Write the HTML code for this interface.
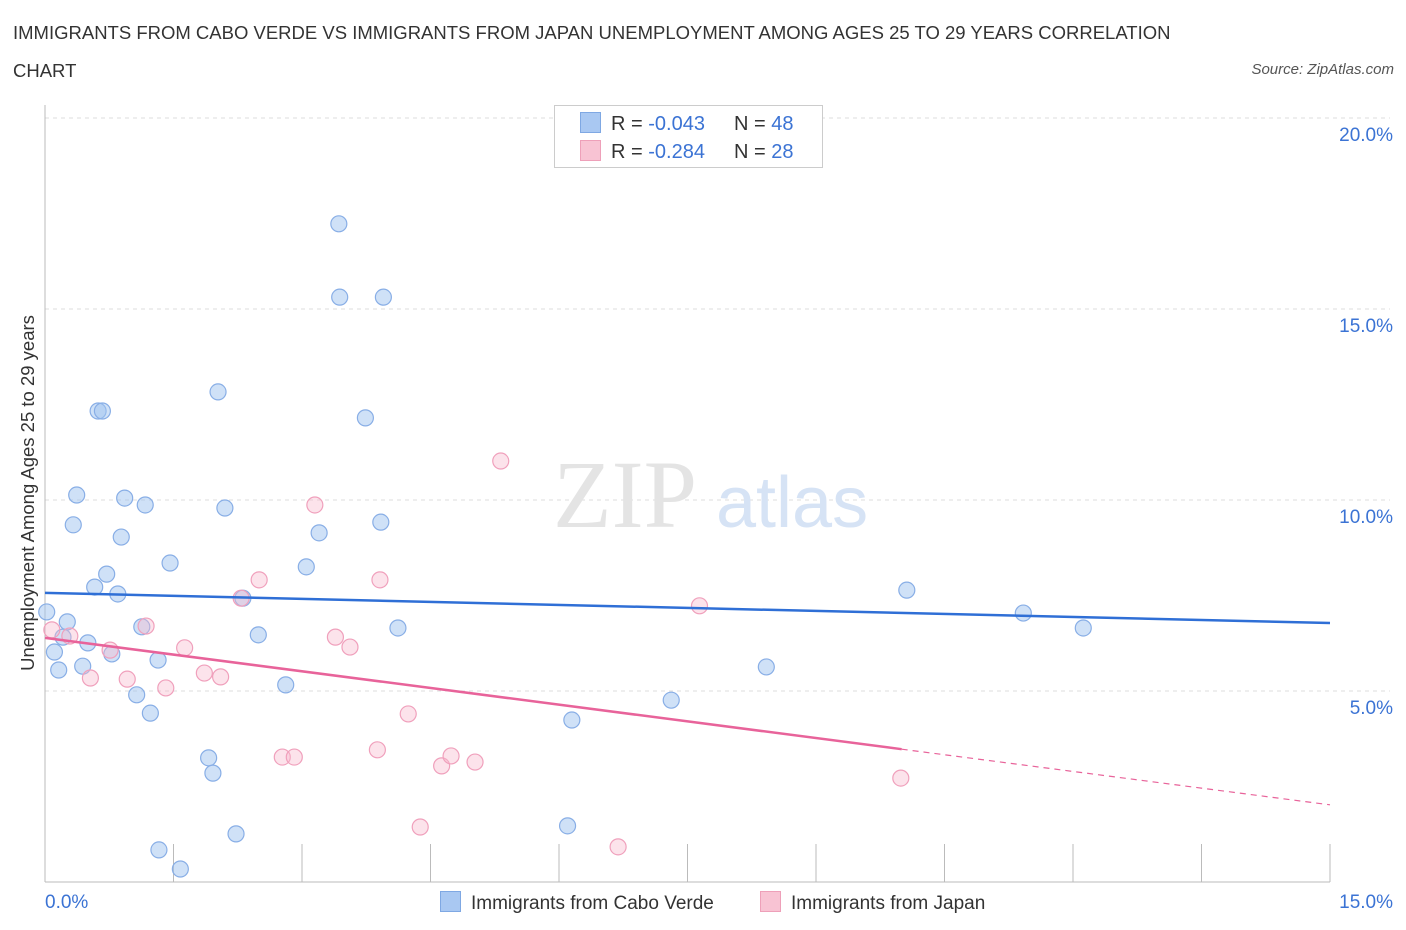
<!DOCTYPE html>
<html><head><meta charset="utf-8">
<style>
body{margin:0;background:#fff;font-family:"Liberation Sans",sans-serif;}
#wrap{position:relative;width:1406px;height:930px;overflow:hidden;}
.title{position:absolute;left:13px;top:14px;font-size:18.5px;color:#333;line-height:38px;width:1185px;}
.source{position:absolute;right:12px;top:61px;font-size:15px;color:#555;font-style:italic;}
</style></head>
<body>
<div id="wrap">
<div class="title">IMMIGRANTS FROM CABO VERDE VS IMMIGRANTS FROM JAPAN UNEMPLOYMENT AMONG AGES 25 TO 29 YEARS CORRELATION CHART</div>
<div class="source">Source: ZipAtlas.com</div>
<svg id="svg" width="1406" height="930" style="position:absolute;left:0;top:0"></svg>
</div>
<script>
const blueX=[0.02,0.11,0.16,0.26,0.21,0.33,0.37,0.44,0.50,0.58,0.62,0.67,0.72,0.78,0.85,0.89,0.93,1.07,1.13,1.17,1.23,1.32,1.33,1.46,1.58,1.91,1.96,2.02,2.10,2.23,2.31,2.49,2.81,3.05,3.20,3.43,3.44,3.74,3.92,3.95,4.12,6.10,6.15,7.31,8.42,10.06,11.42,12.12];
const blueY=[7.07,6.02,5.55,6.81,6.41,9.35,10.13,5.65,6.26,7.72,12.33,12.33,8.06,5.97,7.54,9.03,10.05,4.90,6.68,9.87,4.42,5.81,0.84,8.35,0.34,3.25,2.85,12.83,9.79,1.26,7.43,6.47,5.16,8.25,9.14,17.23,15.31,12.15,9.42,15.31,6.65,1.47,4.24,4.76,5.63,7.64,7.04,6.65];
const pinkX=[0.08,0.29,0.53,0.76,0.96,1.18,1.41,1.63,1.86,2.05,2.29,2.50,2.77,2.91,3.15,3.39,3.56,3.88,3.91,4.24,4.38,4.63,4.74,5.02,5.32,6.69,7.64,9.99];
const pinkY=[6.60,6.44,5.34,6.07,5.31,6.70,5.08,6.13,5.47,5.37,7.43,7.91,3.27,3.27,9.87,6.41,6.15,3.46,7.91,4.40,1.44,3.04,3.30,3.14,11.02,0.92,7.23,2.72];
const blueTrend=[7.57,6.78];   // y at x=0 and x=15
const pinkTrend=[6.39,2.02];   // y at x=0 and x=15
const pinkSolidEnd=10.0;
const yTicks=[5,10,15,20];
const yTickLabels=["5.0%","10.0%","15.0%","20.0%"];

const NS="http://www.w3.org/2000/svg";
const svg=document.getElementById('svg');
const X0=45,X1=1330,Y0=882,Ytop=118;
const sx=v=>X0+(v/15)*(X1-X0);
const sy=v=>Y0-(v/20)*(Y0-Ytop);
function el(t,a,p){const e=document.createElementNS(NS,t);for(const k in a)e.setAttribute(k,a[k]);(p||svg).appendChild(e);return e;}

yTicks.forEach((t,i)=>{
  const g=el('line',{x1:X0,x2:1390,y1:sy(t),y2:sy(t),stroke:'#ddd','stroke-dasharray':'4,4'});
  
  
  const tx=el('text',{x:1393,y:sy(t)+23,'text-anchor':'end','font-size':19,fill:'#3b73d4','font-family':'Liberation Sans'});
  tx.textContent=yTickLabels[i];
  
  
});
const ya=el('line',{x1:X0,x2:X0,y1:105,y2:Y0,stroke:'#bbb'});


const xa=el('line',{x1:X0,x2:X1,y1:Y0,y2:Y0,stroke:'#bbb'});


for(let i=0;i<=10;i++){
  const v=i*1.5;
  const t=el('line',{x1:sx(v),x2:sx(v),y1:Y0,y2:Y0-38,stroke:'#bbb'});
  
  
}
const xl0=el('text',{x:45,y:908,'font-size':19,fill:'#3b73d4','font-family':'Liberation Sans'});xl0.textContent='0.0%';


const xl1=el('text',{x:1393,y:908,'text-anchor':'end','font-size':19,fill:'#3b73d4','font-family':'Liberation Sans'});xl1.textContent='15.0%';


const yt=el('text',{x:0,y:0,transform:'translate(34,493) rotate(-90)','text-anchor':'middle','font-size':18.5,fill:'#333','font-family':'Liberation Sans'});
yt.textContent='Unemployment Among Ages 25 to 29 years';


const wm=el('text',{x:553,y:527,'font-size':96,fill:'#e4e4e4','font-family':'Liberation Serif'});wm.textContent='ZIP';


const wm2=el('text',{x:716,y:527,'font-size':72,fill:'#d6e3f5','font-family':'Liberation Sans'});wm2.textContent='atlas';



blueX.forEach((x,i)=>{
  const c=el('circle',{cx:sx(x),cy:sy(blueY[i]),r:8,fill:'rgba(160,195,240,0.5)',stroke:'#88aee6','stroke-width':1.2});
  
  
});
pinkX.forEach((x,i)=>{
  const c=el('circle',{cx:sx(x),cy:sy(pinkY[i]),r:8,fill:'rgba(248,185,205,0.4)',stroke:'#f0a0bc','stroke-width':1.2});
  
  
});
const bt=el('line',{x1:sx(0),y1:sy(blueTrend[0]),x2:sx(15),y2:sy(blueTrend[1]),stroke:'#2f6fd6','stroke-width':2.5});


const pAt=x=>pinkTrend[0]+(pinkTrend[1]-pinkTrend[0])*x/15;
const pt=el('line',{x1:sx(0),y1:sy(pAt(0)),x2:sx(pinkSolidEnd),y2:sy(pAt(pinkSolidEnd)),stroke:'#e8639a','stroke-width':2.5});


const pd=el('line',{x1:sx(pinkSolidEnd),y1:sy(pAt(pinkSolidEnd)),x2:sx(15),y2:sy(pAt(15)),stroke:'#e8639a','stroke-width':1.2,'stroke-dasharray':'6,5'});



const lb=el('rect',{x:554.5,y:105.5,width:268,height:62,fill:'#fff',stroke:'#ccc'});


[[ '#a9c8f2','#7fa8e3','-0.043','48',123],['#f8c3d3','#eea0b9','-0.284','28',151]].forEach(r=>{
  const s=el('rect',{x:580.5,y:r[4]-10.5,width:20,height:20,fill:r[0],stroke:r[1]});
  
  
  const t=el('text',{x:611,y:r[4]+7,'font-size':20,fill:'#333','font-family':'Liberation Sans'});
  t.innerHTML='R = <tspan fill="#3b73d4">'+r[2]+'</tspan><tspan x="734">N = </tspan><tspan fill="#3b73d4">'+r[3]+'</tspan>';
  
  
});
[[440,'#a9c8f2','#7fa8e3','Immigrants from Cabo Verde','legend-entry-cabo-verde'],[760,'#f8c3d3','#eea0b9','Immigrants from Japan','legend-entry-japan']].forEach(r=>{
  const s=el('rect',{x:r[0]+0.5,y:891.5,width:20,height:20,fill:r[1],stroke:r[2]});
  
  
  const t=el('text',{x:r[0]+31,y:909,'font-size':19,fill:'#333','font-family':'Liberation Sans'});
  t.textContent=r[3];
  
  
});
</script>
</body></html>
